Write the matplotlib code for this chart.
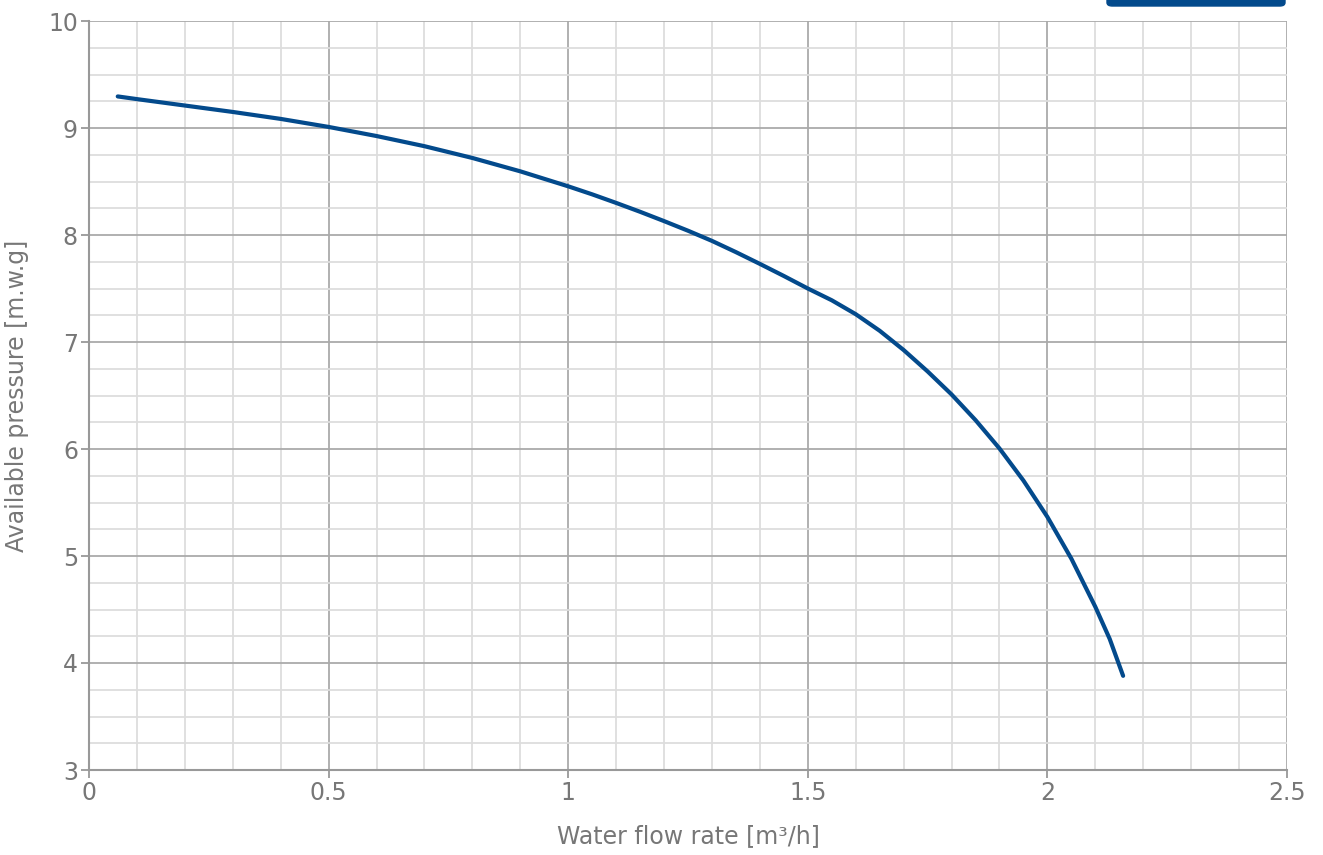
import matplotlib.pyplot as plt
from matplotlib.patches import FancyBboxPatch
from matplotlib.ticker import MultipleLocator

# Curve
flow = [0.06, 0.1, 0.2, 0.3, 0.4, 0.5, 0.6, 0.7, 0.8, 0.9, 1.0,
        1.05, 1.1, 1.15, 1.2, 1.25, 1.3, 1.35, 1.4, 1.45, 1.5, 1.55, 1.6, 1.65,
        1.7, 1.75, 1.8, 1.85, 1.9, 1.95, 2.0, 2.05, 2.1, 2.13, 2.158]
pressure = [9.295, 9.27, 9.21, 9.15, 9.085, 9.01, 8.925, 8.83, 8.72, 8.595, 8.455,
            8.38, 8.30, 8.217, 8.13, 8.04, 7.945, 7.84, 7.73, 7.617, 7.50, 7.39, 7.26, 7.105,
            6.925, 6.725, 6.51, 6.27, 6.005, 5.705, 5.365, 4.975, 4.525, 4.225, 3.88]

x_ticks = [0, 0.5, 1, 1.5, 2, 2.5]
x_labels = ["0", "0.5", "1", "1.5", "2", "2.5"]
y_ticks = [3, 4, 5, 6, 7, 8, 9, 10]

blue = "#034a8c"
grey_txt = "#777777"

plt.rcParams['font.family'] = ['DejaVu Sans']

fig = plt.figure(figsize=(13.23, 8.55), dpi=100)
ax = fig.add_axes([89 / 1323, 1 - 770 / 855, (1287 - 89) / 1323, (770 - 21) / 855])

ax.plot(flow, pressure, color=blue, lw=3.0, solid_capstyle='round', solid_joinstyle='round', zorder=3)

ax.set_xlim(0, 2.5)
ax.set_ylim(3, 10)
ax.set_xticks(x_ticks)
ax.set_xticklabels(x_labels)
ax.set_yticks(y_ticks)
ax.xaxis.set_minor_locator(MultipleLocator(0.1))
ax.yaxis.set_minor_locator(MultipleLocator(0.25))

ax.grid(which='major', color='#aaaaaa', lw=1.3, zorder=1)
ax.grid(which='minor', color='#dddddd', lw=1.3, zorder=0)
ax.set_axisbelow(True)

for side in ['top', 'right']:
    ax.spines[side].set_visible(False)
for side in ['left', 'bottom']:
    ax.spines[side].set_color('#999999')
    ax.spines[side].set_linewidth(1.5)

ax.tick_params(which='major', length=6, width=1.3, color='#999999',
               labelsize=17, labelcolor=grey_txt, pad=2)
ax.tick_params(which='minor', length=0)

ax.set_xlabel("Water flow rate [m³/h]", fontsize=17, color=grey_txt, labelpad=14)
ax.set_ylabel("Available pressure [m.w.g]", fontsize=17, color=grey_txt, labelpad=14)

# clipped legend box at the top right
fig.patches.append(FancyBboxPatch((1107 / 1323, 1 - 6 / 855), 178 / 1323, 20 / 855,
                                  boxstyle="round,pad=0,rounding_size=0.004",
                                  transform=fig.transFigure, color=blue, clip_on=False))

fig.savefig("out.png", dpi=100)
